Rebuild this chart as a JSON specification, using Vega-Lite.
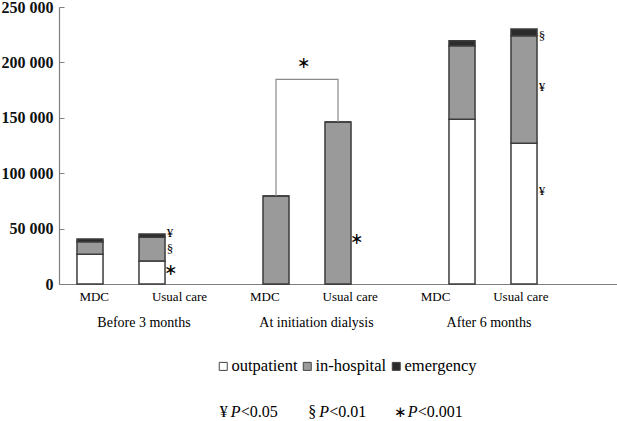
{
  "$schema": "https://vega.github.io/schema/vega-lite/v6.json",
  "width": 558,
  "height": 277,
  "autosize": {"type": "none"},
  "padding": {"left": 59, "top": 7, "right": 0, "bottom": 137},
  "background": "white",
  "config": {
    "view": {"stroke": null},
    "font": "Liberation Serif",
    "legend": {"labelFont": "Liberation Serif", "labelFontSize": 16.5, "labelColor": "#000"}
  },
  "datasets": {
    "costs": [
      {"slot": "Before 3 months / MDC", "type": "outpatient", "cost": 26800},
      {"slot": "Before 3 months / MDC", "type": "in-hospital", "cost": 11400},
      {"slot": "Before 3 months / MDC", "type": "emergency", "cost": 2400},
      {"slot": "Before 3 months / Usual care", "type": "outpatient", "cost": 20800},
      {"slot": "Before 3 months / Usual care", "type": "in-hospital", "cost": 21300},
      {"slot": "Before 3 months / Usual care", "type": "emergency", "cost": 3000},
      {"slot": "At initiation dialysis / MDC", "type": "outpatient", "cost": 0},
      {"slot": "At initiation dialysis / MDC", "type": "in-hospital", "cost": 79400},
      {"slot": "At initiation dialysis / MDC", "type": "emergency", "cost": 0},
      {"slot": "At initiation dialysis / Usual care", "type": "outpatient", "cost": 0},
      {"slot": "At initiation dialysis / Usual care", "type": "in-hospital", "cost": 146200},
      {"slot": "At initiation dialysis / Usual care", "type": "emergency", "cost": 0},
      {"slot": "After 6 months / MDC", "type": "outpatient", "cost": 148600},
      {"slot": "After 6 months / MDC", "type": "in-hospital", "cost": 66500},
      {"slot": "After 6 months / MDC", "type": "emergency", "cost": 4500},
      {"slot": "After 6 months / Usual care", "type": "outpatient", "cost": 127000},
      {"slot": "After 6 months / Usual care", "type": "in-hospital", "cost": 97100},
      {"slot": "After 6 months / Usual care", "type": "emergency", "cost": 6000}
    ],
    "sig": [
      {"slot": "Before 3 months / Usual care", "sym": "¥", "v": 46300},
      {"slot": "Before 3 months / Usual care", "sym": "§", "v": 31600},
      {"slot": "Before 3 months / Usual care", "sym": "∗", "v": 12600},
      {"slot": "At initiation dialysis / Usual care", "sym": "∗", "v": 40500},
      {"slot": "After 6 months / Usual care", "sym": "§", "v": 224100},
      {"slot": "After 6 months / Usual care", "sym": "¥", "v": 177800},
      {"slot": "After 6 months / Usual care", "sym": "¥", "v": 83900}
    ],
    "bracket": [
      {"slot": "At initiation dialysis / MDC", "v": 79400},
      {"slot": "At initiation dialysis / MDC", "v": 184700},
      {"slot": "At initiation dialysis / Usual care", "v": 184700},
      {"slot": "At initiation dialysis / Usual care", "v": 146200}
    ],
    "bracketStar": [
      {"slot": "At initiation dialysis / Usual care", "sym": "∗", "v": 199500}
    ],
    "cats": [
      {"slot": "Before 3 months / MDC", "arm": "MDC"},
      {"slot": "Before 3 months / Usual care", "arm": "Usual care"},
      {"slot": "At initiation dialysis / MDC", "arm": "MDC"},
      {"slot": "At initiation dialysis / Usual care", "arm": "Usual care"},
      {"slot": "After 6 months / MDC", "arm": "MDC"},
      {"slot": "After 6 months / Usual care", "arm": "Usual care"}
    ],
    "groups": [
      {"group": "Before 3 months"},
      {"group": "At initiation dialysis"},
      {"group": "After 6 months"}
    ],
    "notes": [
      {"level": "p05", "sym": "¥", "p": "P", "rest": "<0.05"},
      {"level": "p01", "sym": "§", "p": "P", "rest": "<0.01"},
      {"level": "p001", "sym": "∗", "p": "P", "rest": "<0.001"}
    ]
  },
  "layer": [
    {
      "layer": [
        {
          "data": {"name": "costs"},
          "mark": {"type": "bar", "stroke": "#3c3c3c", "strokeWidth": 1.5},
          "encoding": {
            "x": {
              "field": "slot", "type": "nominal", "title": null,
              "scale": {
                "domain": [
                  "Before 3 months / MDC", "Before 3 months / Usual care", "gap1",
                  "At initiation dialysis / MDC", "At initiation dialysis / Usual care", "gap2",
                  "After 6 months / MDC", "After 6 months / Usual care", "gap3"
                ],
                "paddingInner": 0.58, "paddingOuter": 0.29
              },
              "axis": {"labels": false, "ticks": false, "title": null, "domainColor": "#7f7f7f", "domainWidth": 1.2}
            },
            "y": {
              "field": "cost", "type": "quantitative", "stack": "zero", "title": null,
              "scale": {"domain": [0, 250000], "nice": false},
              "axis": {
                "values": [0, 50000, 100000, 150000, 200000, 250000],
                "labelExpr": "replace(format(datum.value, ','), ',', ' ')",
                "labelFontSize": 16, "labelFontWeight": "bold", "labelColor": "#111",
                "tickSize": -5, "labelPadding": 11, "tickColor": "#7f7f7f",
                "domainColor": "#7f7f7f", "domainWidth": 1.2, "grid": false, "title": null
              }
            },
            "fill": {
              "field": "type", "type": "nominal",
              "scale": {"domain": ["outpatient", "in-hospital", "emergency"], "range": ["#ffffff", "#9a9a9a", "#2b2b2b"]},
              "legend": {
                "orient": "none", "legendX": 156, "legendY": 351, "direction": "horizontal",
                "title": null, "symbolType": "square", "symbolSize": 64,
                "symbolStrokeColor": "#444", "symbolStrokeWidth": 1,
                "labelFont": "Liberation Serif", "labelFontSize": 16.5, "labelColor": "#000",
                "labelOffset": 0, "columnPadding": 1, "padding": 0
              }
            }
          }
        },
        {
          "data": {"name": "sig"},
          "mark": {"type": "text", "dx": 18, "baseline": "middle", "align": "center", "color": "#000"},
          "encoding": {
            "x": {"field": "slot", "type": "nominal", "title": null},
            "y": {"field": "v", "type": "quantitative", "title": null, "scale": {"domain": [0, 250000], "nice": false}},
            "text": {"field": "sym"},
            "size": {"condition": {"test": "datum.sym == '∗'", "value": 16}, "value": 13}
          }
        },
        {
          "data": {"name": "bracket"},
          "mark": {"type": "line", "color": "#8a8a8a", "strokeWidth": 1.2},
          "encoding": {
            "x": {"field": "slot", "type": "nominal", "title": null},
            "y": {"field": "v", "type": "quantitative", "title": null, "scale": {"domain": [0, 250000], "nice": false}}
          }
        },
        {
          "data": {"name": "bracketStar"},
          "mark": {"type": "text", "dx": -35, "baseline": "middle", "align": "center", "fontSize": 16, "color": "#000"},
          "encoding": {
            "x": {"field": "slot", "type": "nominal", "title": null},
            "y": {"field": "v", "type": "quantitative", "title": null, "scale": {"domain": [0, 250000], "nice": false}},
            "text": {"field": "sym"}
          }
        }
      ]
    },
    {
      "data": {"name": "cats"},
      "mark": {"type": "text", "dy": 13, "baseline": "middle", "align": "center", "fontSize": 13, "color": "#000"},
      "encoding": {
        "x": {"field": "slot", "type": "nominal", "sort": null, "title": null, "axis": null,
              "scale": {"type": "point", "padding": 0.77, "align": 0.268}},
        "y": {"datum": 0, "type": "quantitative", "scale": {"domain": [0, 250000], "nice": false}},
        "text": {"field": "arm"}
      }
    },
    {
      "data": {"name": "groups"},
      "mark": {"type": "text", "dy": 39, "baseline": "middle", "align": "center", "fontSize": 14, "color": "#000"},
      "encoding": {
        "x": {"field": "group", "type": "nominal", "sort": null, "title": null, "axis": null,
              "scale": {"type": "point", "padding": 0.6174, "align": 0.399}},
        "y": {"datum": 0, "type": "quantitative", "scale": {"domain": [0, 250000], "nice": false}},
        "text": {"field": "group"}
      }
    },
    {
      "data": {"name": "notes"},
      "encoding": {
        "x": {"field": "level", "type": "nominal", "title": null, "axis": null,
              "scale": {"type": "point", "domain": ["gapA", "p05", "p01", "p001", "gapB", "gapC"], "padding": 0.6525, "align": 0.6606}},
        "y": {"datum": 0, "type": "quantitative", "scale": {"domain": [0, 250000], "nice": false}}
      },
      "layer": [
        {
          "mark": {"type": "text", "dy": 128, "baseline": "middle", "align": "center", "color": "#000"},
          "encoding": {
            "text": {"field": "sym"},
            "size": {"condition": {"test": "datum.sym == '∗'", "value": 15}, "value": 16}
          }
        },
        {
          "mark": {"type": "text", "dy": 128, "dx": 7, "baseline": "middle", "align": "left", "fontSize": 16, "fontStyle": "italic", "color": "#000"},
          "encoding": {"text": {"field": "p"}}
        },
        {
          "mark": {"type": "text", "dy": 128, "dx": 17, "baseline": "middle", "align": "left", "fontSize": 16, "color": "#000"},
          "encoding": {"text": {"field": "rest"}}
        }
      ]
    }
  ],
  "resolve": {"scale": {"x": "independent"}, "axis": {"x": "independent"}}
}
